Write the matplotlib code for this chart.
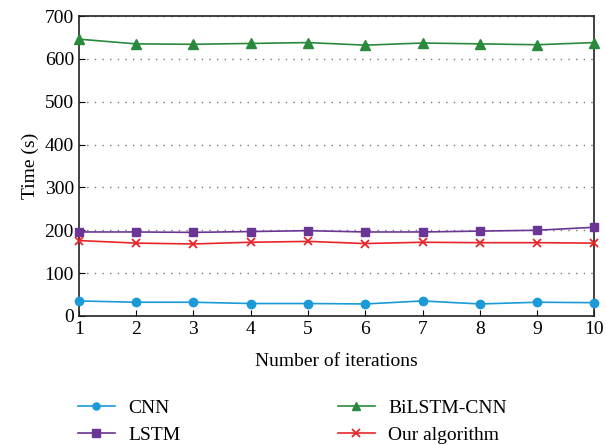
import matplotlib
matplotlib.use('Agg')
import matplotlib.pyplot as plt

plt.rcParams['font.family'] = ['Liberation Serif', 'DejaVu Serif']

iterations = [1, 2, 3, 4, 5, 6, 7, 8, 9, 10]
cnn = [35, 32, 32, 29, 29, 28, 35, 28, 32, 31]
lstm = [196, 196, 195, 197, 199, 196, 196, 198, 200, 207]
bilstm_cnn = [646, 635, 634, 636, 638, 632, 637, 635, 633, 638]
ours = [176, 170, 168, 172, 174, 169, 172, 171, 171, 170]

fig = plt.figure(figsize=(6.06, 4.45), dpi=100)
ax = fig.add_axes([0.130, 0.290, 0.851, 0.674])

l1, = ax.plot(iterations, cnn, color='#1a9ad6', marker='o', markersize=6, lw=1.2, clip_on=False, zorder=3)
l2, = ax.plot(iterations, lstm, color='#6a3594', marker='s', markersize=6, lw=1.2, clip_on=False, zorder=3)
l3, = ax.plot(iterations, bilstm_cnn, color='#2a8a3c', marker='^', markersize=7, lw=1.2, clip_on=False, zorder=3)
l4, = ax.plot(iterations, ours, color='#e8262a', marker='x', markersize=6, mew=1.3, lw=1.2, clip_on=False, zorder=3)

ax.set_xlim(1, 10)
ax.set_ylim(0, 700)
ax.set_xticks(iterations)
ax.set_yticks(range(0, 701, 100))
ax.tick_params(direction='in', labelsize=14, length=4, width=0.8)
ax.yaxis.grid(True, linestyle=(0, (1, 4.5)), color='#777777', lw=1)
ax.set_axisbelow(True)
for s in ax.spines.values():
    s.set_linewidth(1.2)
    s.set_color('#222222')

ax.set_xlabel('Number of iterations', fontsize=14, labelpad=11)
ax.set_ylabel('Time (s)', fontsize=14)

fig.legend([l1, l2, l3, l4], ['CNN', 'LSTM', 'BiLSTM-CNN', 'Our algorithm'],
           loc='lower left', bbox_to_anchor=(0.128, 0.003), ncol=2, frameon=False,
           borderpad=0, borderaxespad=0,
           fontsize=14, columnspacing=8.1, handlelength=1.9, labelspacing=0.45,
           handletextpad=0.7, markerscale=0.85)

fig.savefig('out.png', dpi=100)
